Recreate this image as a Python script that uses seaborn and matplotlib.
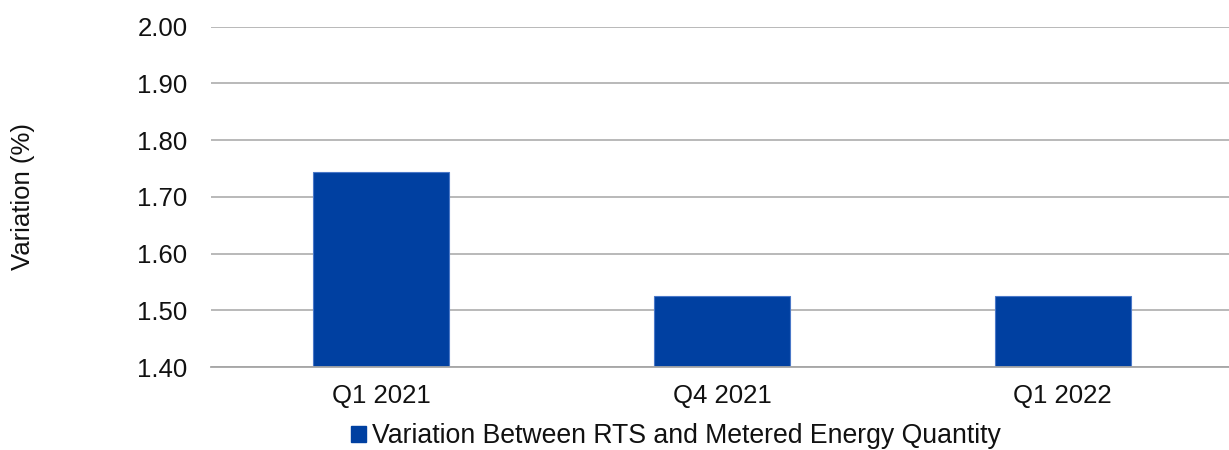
import matplotlib
matplotlib.use("Agg")
import matplotlib.pyplot as plt
from matplotlib.patches import Patch
from matplotlib.ticker import FixedLocator, FormatStrFormatter
import pandas as pd
import seaborn as sns

# Quarterly variation between RTS and metered energy quantity (%)
quarters = ["Q1 2021", "Q4 2021", "Q1 2022"]
variation = [1.743, 1.526, 1.526]
series_name = "Variation Between RTS and Metered Energy Quantity"
y_ticks = [1.40, 1.50, 1.60, 1.70, 1.80, 1.90, 2.00]

BAR = "#0040A1"
GRID = "#A6A6A6"

sns.set_style("white")
plt.rcParams["font.family"] = ["Liberation Sans", "DejaVu Sans"]

df = pd.DataFrame({"quarter": quarters, "variation": variation})

fig = plt.figure(figsize=(12.29, 4.5), dpi=100)
ax = fig.add_axes([211 / 1229, 1 - 367 / 450, 1022 / 1229, (367 - 26.7) / 450])

sns.barplot(data=df, x="quarter", y="variation", color=BAR, width=0.4,
            saturation=1, edgecolor="#4A78C8", linewidth=0.8, ax=ax, zorder=3)

ax.set_ylim(y_ticks[0], y_ticks[-1])
ax.set_xlim(-0.5, len(quarters) - 0.5)
ax.yaxis.set_major_locator(FixedLocator(y_ticks))
ax.yaxis.set_major_formatter(FormatStrFormatter("%.2f"))
ax.grid(axis="y", color=GRID, linewidth=1.1, zorder=0)
ax.set_axisbelow(True)

for side in ("top", "right", "left"):
    ax.spines[side].set_visible(False)
ax.spines["bottom"].set_color(GRID)
ax.spines["bottom"].set_linewidth(1.3)
ax.spines["bottom"].set_zorder(4)

# category boundary tick marks below the axis
ax.xaxis.set_minor_locator(FixedLocator([i - 0.5 for i in range(len(quarters) + 1)]))
ax.tick_params(axis="x", which="minor", length=6, width=1.3, color=GRID, direction="out")
ax.tick_params(axis="x", which="major", length=0, pad=12, labelsize=18.5, labelcolor="#111111")
ax.tick_params(axis="y", length=0, pad=17, labelsize=18.5, labelcolor="#111111")

ax.set_xlabel("")
ax.set_ylabel("Variation (%)", fontsize=18.5, color="#111111")
ax.yaxis.set_label_coords(-0.172, 0.5)

handles = [Patch(facecolor=BAR, edgecolor=BAR, label=series_name)]
fig.legend(handles=handles, loc="center", bbox_to_anchor=(676 / 1229, 1 - 436 / 450),
           frameon=False, fontsize=19.2, handlelength=0.55, handleheight=0.55,
           handletextpad=0.25, borderpad=0, labelcolor="#111111")

fig.savefig("out.png", dpi=100)
